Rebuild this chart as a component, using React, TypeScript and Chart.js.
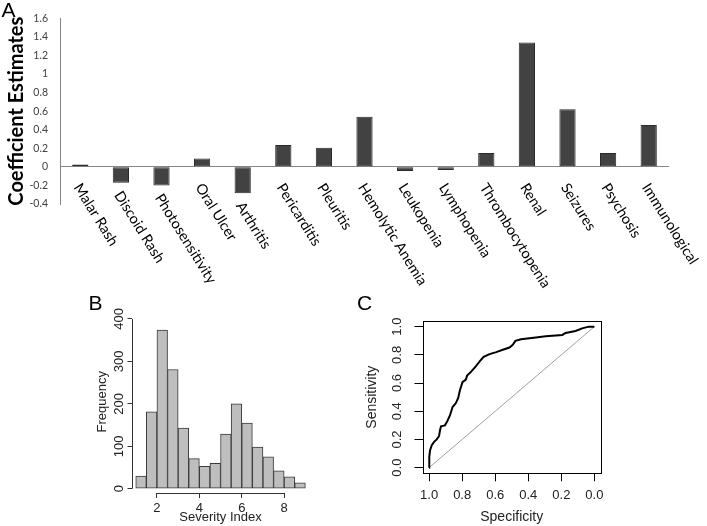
import React, { useEffect, useRef } from 'react';
import { Chart, registerables } from 'chart.js';

Chart.register(...registerables);

// ---------- Panel A data ----------
const symptoms = [
  'Malar Rash', 'Discoid Rash', 'Photosensitivity', 'Oral Ulcer', 'Arthritis',
  'Pericarditis', 'Pleuritis', 'Hemolytic Anemia', 'Leukopenia', 'Lymphopenia',
  'Thrombocytopenia', 'Renal', 'Seizures', 'Psychosis', 'Immunological',
];
const coefficients = [0.025, -0.17, -0.2, 0.09, -0.285, 0.235, 0.205, 0.54, -0.045, -0.035, 0.15, 1.34, 0.62, 0.15, 0.45];
const coefTicks = [-0.4, -0.2, 0, 0.2, 0.4, 0.6, 0.8, 1, 1.2, 1.4, 1.6];

// ---------- Panel B data ----------
const severityBinCenters = [1.25, 1.75, 2.25, 2.75, 3.25, 3.75, 4.25, 4.75, 5.25, 5.75, 6.25, 6.75, 7.25, 7.75, 8.25, 8.75];
const severityCounts = [30, 181, 374, 281, 143, 71, 53, 60, 129, 200, 155, 98, 75, 42, 28, 14];
const severityTicks = [2, 4, 6, 8];
const frequencyTicks = [0, 100, 200, 300, 400];

// ---------- Panel C data ----------
const rocSpecificity = [1.0, 1.0, 0.998, 0.994, 0.984, 0.97, 0.954, 0.94, 0.934, 0.928, 0.904, 0.89, 0.874, 0.858, 0.838, 0.824, 0.814, 0.798, 0.778, 0.77, 0.744, 0.714, 0.694, 0.67, 0.634, 0.594, 0.554, 0.514, 0.494, 0.478, 0.444, 0.354, 0.294, 0.194, 0.174, 0.114, 0.074, 0.034, 0.0];
const rocSensitivity = [0.0, 0.04, 0.077, 0.124, 0.16, 0.183, 0.2, 0.223, 0.265, 0.293, 0.3, 0.33, 0.37, 0.43, 0.458, 0.495, 0.547, 0.606, 0.624, 0.653, 0.683, 0.723, 0.754, 0.786, 0.805, 0.819, 0.836, 0.852, 0.871, 0.899, 0.911, 0.923, 0.932, 0.941, 0.955, 0.969, 0.988, 1.0, 1.0];
const diagonalX = [1, 0];
const diagonalY = [0, 1];
const rocTicks = [0, 0.2, 0.4, 0.6, 0.8, 1.0];

const SANS = "'Liberation Sans', Arial, sans-serif";

const categoryLabelPlugin = {
  id: 'categoryLabels',
  afterDatasetsDraw(chart: any) {
    const { ctx } = chart;
    const yScale = chart.scales.y;
    const zeroY = yScale.getPixelForValue(0);
    const meta = chart.getDatasetMeta(0);
    const labels: string[] = chart.data.labels;
    ctx.save();
    ctx.font = '14.5px Lato';
    ctx.fillStyle = '#000';
    ctx.textAlign = 'left';
    ctx.textBaseline = 'top';
    labels.forEach((label, i) => {
      const el: any = meta.data[i];
      const bottom = Math.max(el.y, el.base);
      const top = Math.max(zeroY + 14, bottom + 6);
      ctx.save();
      ctx.translate(el.x + 3, top);
      ctx.rotate((58 * Math.PI) / 180);
      ctx.fillText(label, 0, 0);
      ctx.restore();
    });
    ctx.restore();
  },
};

const rAxisPlugin = {
  id: 'rAxes',
  afterDraw(chart: any) {
    const { ctx, chartArea } = chart;
    const xs = chart.scales.x;
    const ys = chart.scales.y;
    ctx.save();
    ctx.strokeStyle = '#333';
    ctx.lineWidth = 1;
    ctx.beginPath();
    const xt = xs.ticks;
    const yb = Math.round(chartArea.bottom) + 0.5;
    ctx.moveTo(xs.getPixelForValue(xt[0].value), yb);
    ctx.lineTo(xs.getPixelForValue(xt[xt.length - 1].value), yb);
    const yt = ys.ticks;
    const xl = Math.round(chartArea.left) + 0.5;
    ctx.moveTo(xl, ys.getPixelForValue(yt[0].value));
    ctx.lineTo(xl, ys.getPixelForValue(yt[yt.length - 1].value));
    ctx.stroke();
    ctx.restore();
  },
};

const boxPlugin = {
  id: 'box',
  afterDraw(chart: any) {
    const { ctx, chartArea } = chart;
    ctx.save();
    ctx.strokeStyle = '#000';
    ctx.lineWidth = 1;
    const l = Math.round(chartArea.left) + 0.5;
    const t = Math.round(chartArea.top) + 0.5;
    const r = Math.round(chartArea.right) + 0.5;
    const b = Math.round(chartArea.bottom) + 0.5;
    ctx.strokeRect(l, t, r - l, b - t);
    ctx.restore();
  },
};

export default function App() {
  const refA = useRef<HTMLCanvasElement>(null);
  const refB = useRef<HTMLCanvasElement>(null);
  const refC = useRef<HTMLCanvasElement>(null);

  useEffect(() => {
    const charts: Chart[] = [];

    charts.push(
      new Chart(refA.current as HTMLCanvasElement, {
        type: 'bar',
        data: {
          labels: symptoms,
          datasets: [
            {
              data: coefficients,
              backgroundColor: '#424242',
              borderColor: '#2a2a2a',
              borderWidth: 1,
              borderSkipped: false,
              barPercentage: 0.4,
              categoryPercentage: 1,
            },
          ],
        },
        options: {
          animation: false,
          responsive: false,
          devicePixelRatio: 1,
          layout: { padding: { left: 0, top: 12, right: 38, bottom: 106 } },
          plugins: { legend: { display: false }, tooltip: { enabled: false } },
          scales: {
            x: { type: 'category', display: false },
            y: {
              type: 'linear',
              min: -0.4,
              max: 1.6,
              afterBuildTicks: (s: any) => {
                s.ticks = coefTicks.map((v) => ({ value: v }));
              },
              afterFit: (s: any) => {
                s.width = 60;
              },
              border: { display: true, color: '#868686', width: 1 },
              grid: {
                display: true,
                drawTicks: false,
                color: (c: any) => (c.tick && c.tick.value === 0 ? '#868686' : 'rgba(0,0,0,0)'),
              },
              ticks: {
                padding: 12,
                color: '#404040',
                font: { family: 'Lato', size: 10.5 },
                callback: (v: any) => String(Math.round(Number(v) * 10) / 10),
              },
              title: {
                display: true,
                text: 'Coefficient Estimates',
                color: '#000',
                font: { family: 'Lato', size: 20, weight: 'bold' },
                padding: { top: 5, bottom: 0 },
              },
            },
          },
        },
        plugins: [categoryLabelPlugin],
      } as any)
    );

    charts.push(
      new Chart(refB.current as HTMLCanvasElement, {
        type: 'bar',
        data: {
          datasets: [
            {
              data: severityBinCenters.map((x, i) => ({ x, y: severityCounts[i] })),
              backgroundColor: '#bebebe',
              borderColor: '#3a3a3a',
              borderWidth: 1,
              borderSkipped: false,
              barPercentage: 1,
              categoryPercentage: 1,
            },
          ],
        },
        options: {
          animation: false,
          responsive: false,
          devicePixelRatio: 1,
          layout: { padding: { left: 0, top: 30.5, right: 20.4, bottom: 0 } },
          plugins: { legend: { display: false }, tooltip: { enabled: false } },
          scales: {
            x: {
              type: 'linear',
              min: 0.8,
              max: 9.2,
              offset: false,
              afterBuildTicks: (s: any) => {
                s.ticks = severityTicks.map((v) => ({ value: v }));
              },
              afterFit: (s: any) => {
                s.height = 33;
              },
              border: { display: false },
              grid: { offset: false, drawOnChartArea: false, drawTicks: true, tickLength: 5, color: '#333' },
              ticks: { padding: 2.2, color: '#222', font: { family: SANS, size: 13 }, maxRotation: 0 },
              title: {
                display: true,
                text: 'Severity Index',
                color: '#222',
                font: { family: SANS, size: 13 },
                padding: { top: 0, bottom: 0.7 },
              },
            },
            y: {
              type: 'linear',
              min: -10,
              max: 420,
              afterBuildTicks: (s: any) => {
                s.ticks = frequencyTicks.map((v) => ({ value: v }));
              },
              afterFit: (s: any) => {
                s.width = 91.5;
              },
              border: { display: false },
              grid: { drawOnChartArea: false, drawTicks: true, tickLength: 4, color: '#333' },
              ticks: {
                minRotation: 90,
                maxRotation: 90,
                crossAlign: 'center',
                padding: -3,
                color: '#222',
                font: { family: SANS, size: 13 },
              },
              title: {
                display: true,
                text: 'Frequency',
                color: '#222',
                font: { family: SANS, size: 13 },
                padding: { top: 55, bottom: 0 },
              },
            },
          },
        },
        plugins: [rAxisPlugin],
      } as any)
    );

    charts.push(
      new Chart(refC.current as HTMLCanvasElement, {
        type: 'scatter',
        data: {
          datasets: [
            {
              data: rocSpecificity.map((x, i) => ({ x, y: rocSensitivity[i] })),
              showLine: true,
              borderColor: '#000',
              borderWidth: 2,
              pointRadius: 0,
              tension: 0,
            },
            {
              data: diagonalX.map((x, i) => ({ x, y: diagonalY[i] })),
              showLine: true,
              borderColor: '#a0a0a0',
              borderWidth: 1,
              pointRadius: 0,
            },
          ],
        },
        options: {
          animation: false,
          responsive: false,
          devicePixelRatio: 1,
          layout: { padding: { left: 0, top: 41, right: 106, bottom: 0 } },
          plugins: { legend: { display: false }, tooltip: { enabled: false } },
          scales: {
            x: {
              type: 'linear',
              min: -0.04,
              max: 1.04,
              reverse: true,
              afterBuildTicks: (s: any) => {
                s.ticks = rocTicks.map((v) => ({ value: v }));
              },
              afterFit: (s: any) => {
                s.height = 52.7;
              },
              border: { display: false },
              grid: { drawOnChartArea: false, drawTicks: true, tickLength: 8, color: '#000' },
              ticks: {
                padding: 5.9,
                maxRotation: 0,
                color: '#222',
                font: { family: SANS, size: 13 },
                callback: (v: any) => Number(v).toFixed(1),
              },
              title: {
                display: true,
                text: 'Specificity',
                color: '#222',
                font: { family: SANS, size: 14 },
                padding: { top: 0, bottom: 0 },
              },
            },
            y: {
              type: 'linear',
              min: -0.04,
              max: 1.04,
              afterBuildTicks: (s: any) => {
                s.ticks = rocTicks.map((v) => ({ value: v }));
              },
              afterFit: (s: any) => {
                s.width = 82.5;
              },
              border: { display: false },
              grid: { drawOnChartArea: false, drawTicks: true, tickLength: 8, color: '#000' },
              ticks: {
                minRotation: 90,
                maxRotation: 90,
                crossAlign: 'center',
                padding: 8.5,
                color: '#222',
                font: { family: SANS, size: 13 },
                callback: (v: any) => Number(v).toFixed(1),
              },
              title: {
                display: true,
                text: 'Sensitivity',
                color: '#222',
                font: { family: SANS, size: 14 },
                padding: { top: 23.6, bottom: 0 },
              },
            },
          },
        },
        plugins: [boxPlugin],
      } as any)
    );

    return () => {
      charts.forEach((c) => c.destroy());
    };
  }, []);

  const letter: React.CSSProperties = {
    position: 'absolute',
    fontFamily: SANS,
    fontSize: 21,
    lineHeight: '21px',
    color: '#000',
    margin: 0,
  };

  return (
    <div style={{ position: 'fixed', left: 0, top: 0, width: 707, height: 526, background: '#fff', overflow: 'hidden' }}>
      <canvas ref={refA} width={707} height={310} style={{ position: 'absolute', left: 0, top: 0, width: 707, height: 310 }} />
      <canvas ref={refB} width={290} height={246} style={{ position: 'absolute', left: 40, top: 280, width: 290, height: 246 }} />
      <canvas ref={refC} width={367} height={246} style={{ position: 'absolute', left: 340, top: 280, width: 367, height: 246 }} />
      <span style={{ ...letter, left: 1.5, top: -1.1 }}>A</span>
      <span style={{ ...letter, left: 88.5, top: 292.2 }}>B</span>
      <span style={{ ...letter, left: 357, top: 292.2 }}>C</span>
    </div>
  );
}
